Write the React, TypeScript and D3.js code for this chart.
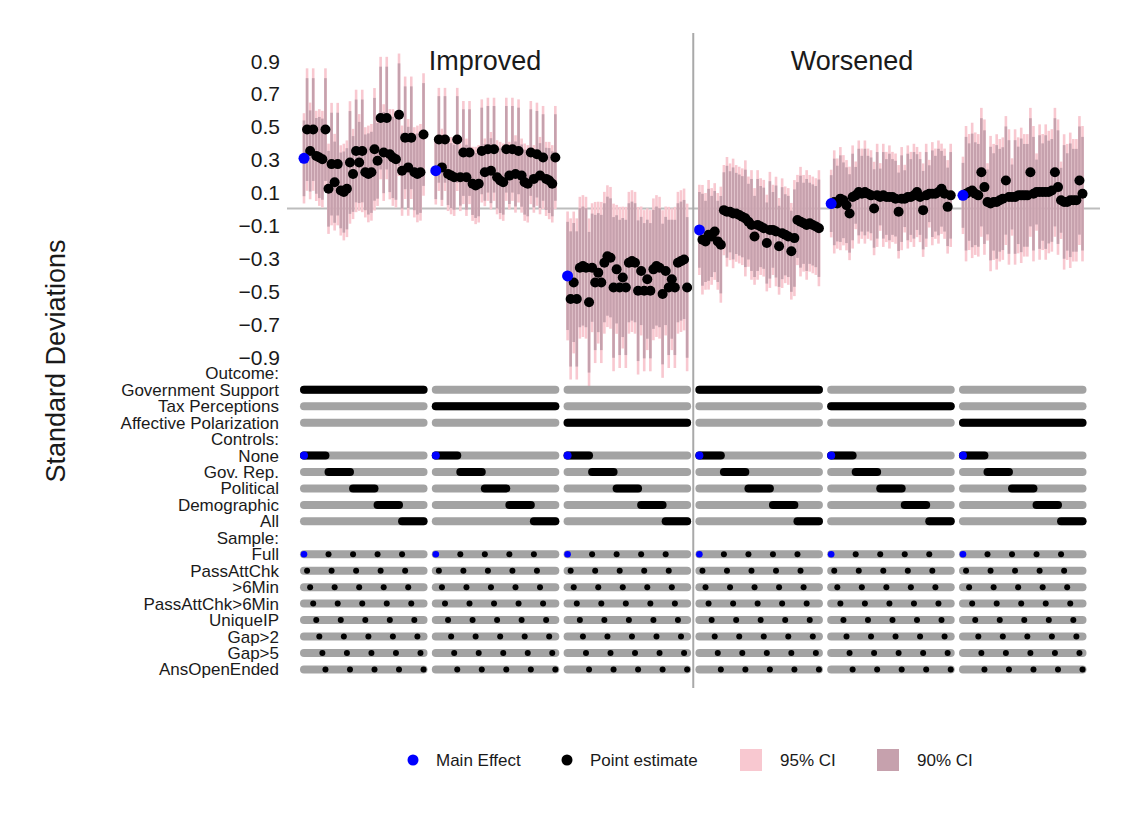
import React from 'react';
import * as d3 from 'd3';

// ---------- DATA ----------
const panelTitles = ['Improved', 'Worsened'];
const outcomeLabels = ['Government Support', 'Tax Perceptions', 'Affective Polarization'];
const controlLabels = ['None', 'Gov. Rep.', 'Political', 'Demographic', 'All'];
const sampleLabels = ['Full', 'PassAttChk', '>6Min', 'PassAttChk>6Min', 'UniqueIP', 'Gap>2', 'Gap>5', 'AnsOpenEnded'];
const yTicks = [0.9, 0.7, 0.5, 0.3, 0.1, -0.1, -0.3, -0.5, -0.7, -0.9];
const legendLabels = ['Main Effect', 'Point estimate', '95% CI', '90% CI'];

// groups: panel index and outcome index
const groupPanel = [0, 0, 0, 1, 1, 1];
const groupOutcome = [0, 1, 2, 0, 1, 2];

// point estimates, ordered control-major (5 controls x 8 samples)
const govImproved = [
  0.305, 0.48, 0.35, 0.48, 0.32, 0.31, 0.30, 0.48,
  0.12, 0.27, 0.16, 0.27, 0.11, 0.10, 0.12, 0.28,
  0.21, 0.35, 0.28, 0.35, 0.22, 0.21, 0.22, 0.36,
  0.29, 0.55, 0.34, 0.55, 0.33, 0.31, 0.30, 0.57,
  0.23, 0.43, 0.25, 0.43, 0.22, 0.21, 0.22, 0.45,
];
const taxImproved = [
  0.23, 0.42, 0.25, 0.42, 0.21, 0.20, 0.19, 0.42,
  0.19, 0.34, 0.19, 0.34, 0.15, 0.14, 0.15, 0.35,
  0.22, 0.36, 0.23, 0.36, 0.19, 0.17, 0.16, 0.36,
  0.20, 0.36, 0.21, 0.35, 0.20, 0.16, 0.15, 0.34,
  0.18, 0.33, 0.20, 0.31, 0.18, 0.17, 0.15, 0.31,
];
const apImproved = [
  -0.41, -0.55, -0.45, -0.55, -0.36, -0.35, -0.36, -0.57,
  -0.36, -0.45, -0.39, -0.45, -0.33, -0.29, -0.30, -0.48,
  -0.37, -0.48, -0.42, -0.48, -0.33, -0.32, -0.33, -0.50,
  -0.38, -0.50, -0.43, -0.50, -0.37, -0.35, -0.36, -0.52,
  -0.38, -0.48, -0.43, -0.48, -0.33, -0.32, -0.31, -0.48,
];
const govWorsened = [
  -0.13, -0.19, -0.20, -0.16, -0.17, -0.14, -0.20, -0.22,
  -0.01, -0.02, -0.02, -0.03, -0.03, -0.04, -0.05, -0.06,
  -0.08, -0.10, -0.17, -0.10, -0.11, -0.12, -0.21, -0.13,
  -0.13, -0.14, -0.23, -0.15, -0.16, -0.17, -0.26, -0.18,
  -0.07, -0.08, -0.09, -0.10, -0.09, -0.10, -0.11, -0.12,
];
const taxWorsened = [
  0.03, 0.04, 0.03, 0.06, 0.05, 0.02, -0.03, 0.07,
  0.08, 0.10, 0.09, 0.10, 0.09, 0.08, 0.00, 0.08,
  0.07, 0.08, 0.07, 0.07, 0.07, 0.06, -0.02, 0.06,
  0.06, 0.07, 0.07, 0.08, 0.10, 0.07, -0.01, 0.08,
  0.09, 0.09, 0.09, 0.10, 0.12, 0.09, 0.01, 0.08,
];
const apWorsened = [
  0.08, 0.09, 0.10, 0.11, 0.09, 0.08, 0.22, 0.13,
  0.04, 0.03, 0.04, 0.04, 0.05, 0.06, 0.17, 0.07,
  0.07, 0.07, 0.08, 0.08, 0.08, 0.08, 0.22, 0.09,
  0.10, 0.10, 0.10, 0.10, 0.10, 0.11, 0.22, 0.13,
  0.05, 0.04, 0.04, 0.05, 0.05, 0.05, 0.17, 0.09,
];
const groupEstimates = [govImproved, taxImproved, apImproved, govWorsened, taxWorsened, apWorsened];

// standard errors by sample, per group
const seGovImproved = [0.14, 0.19, 0.15, 0.19, 0.14, 0.15, 0.15, 0.19];
const seTaxImproved = [0.105, 0.16, 0.12, 0.16, 0.115, 0.12, 0.12, 0.16];
const seApImproved = [0.2, 0.25, 0.22, 0.25, 0.22, 0.22, 0.22, 0.26];
const seGovWorsened = [0.14, 0.17, 0.15, 0.17, 0.15, 0.15, 0.15, 0.18];
const seTaxWorsened = [0.105, 0.16, 0.14, 0.16, 0.14, 0.14, 0.145, 0.16];
const seApWorsened = [0.12, 0.21, 0.18, 0.21, 0.19, 0.19, 0.2, 0.21];
const groupSE = [seGovImproved, seTaxImproved, seApImproved, seGovWorsened, seTaxWorsened, seApWorsened];

const Z95 = 1.96;
const Z90 = 1.645;

// ---------- LAYOUT ----------
const W = 1124;
const H = 818;
const FONT = "'Liberation Sans', Arial, Helvetica, sans-serif";
const PER_GROUP = 43;
const N_SPEC = 40;
const TEXT = '#1a1a1a';
const GRAY_BAR = '#a3a3a3';
const PINK = '#f8c8d0';
const MAUVE = '#c6a1ad';

export default function App() {
  const nG = groupEstimates.length;
  const lastIdx = (nG - 1) * PER_GROUP + N_SPEC - 1;
  const x = d3.scaleLinear().domain([0, lastIdx]).range([304, 304 + lastIdx * 3.065]);
  const y = d3.scaleLinear().domain([-0.9, 0.9]).range([356.5, 60.5]);
  const row = d3.scaleLinear().domain([0, 18]).range([373.3, 669.4]);

  const specs: any[] = [];
  groupEstimates.forEach((arr, g) => {
    arr.forEach((v, j) => {
      const s = j % 8;
      const se = groupSE[g][s];
      specs.push({ g, j, v, idx: g * PER_GROUP + j, se, main: j === 0 });
    });
  });

  const labelRows: { k: number; text: string }[] = [];
  labelRows.push({ k: 0, text: 'Outcome:' });
  outcomeLabels.forEach((t, i) => labelRows.push({ k: 1 + i, text: t }));
  labelRows.push({ k: 4, text: 'Controls:' });
  controlLabels.forEach((t, i) => labelRows.push({ k: 5 + i, text: t }));
  labelRows.push({ k: 10, text: 'Sample:' });
  sampleLabels.forEach((t, i) => labelRows.push({ k: 11 + i, text: t }));

  const barRows = labelRows.filter((r) => !r.text.endsWith(':'));

  const sepX = (x(2 * PER_GROUP + N_SPEC - 1) + x(3 * PER_GROUP)) / 2;
  const barW = 2.6;

  return (
    <svg width={W} height={H} style={{ position: 'absolute', left: 0, top: 0, background: '#fff' }} fontFamily={FONT}>
      <rect x={0} y={0} width={W} height={H} fill="#fff" />

      {/* zero line */}
      <line x1={287} x2={1100} y1={y(0)} y2={y(0)} stroke="#bdbdbd" strokeWidth={2} />

      {/* CI bars */}
      {specs.map((d, i) => (
        <rect key={'c95' + i} x={x(d.idx) - barW / 2} width={barW}
          y={y(d.v + Z95 * d.se)} height={y(d.v - Z95 * d.se) - y(d.v + Z95 * d.se)} fill={PINK} />
      ))}
      {specs.map((d, i) => (
        <rect key={'c90' + i} x={x(d.idx) - barW / 2} width={barW}
          y={y(d.v + Z90 * d.se)} height={y(d.v - Z90 * d.se) - y(d.v + Z90 * d.se)} fill={MAUVE} />
      ))}

      {/* point estimates */}
      {specs.filter((d) => !d.main).map((d, i) => (
        <circle key={'p' + i} cx={x(d.idx)} cy={y(d.v)} r={5} fill="#000" />
      ))}
      {specs.filter((d) => d.main).map((d, i) => (
        <circle key={'m' + i} cx={x(d.idx)} cy={y(d.v)} r={5.5} fill="#0000ff" />
      ))}

      {/* separator */}
      <line x1={sepX} x2={sepX} y1={33} y2={688} stroke="#a9a9a9" strokeWidth={2} />

      {/* panel titles */}
      <text x={485} y={70} fontSize={27} textAnchor="middle" fill={TEXT}>{panelTitles[0]}</text>
      <text x={852} y={70} fontSize={27} textAnchor="middle" fill={TEXT}>{panelTitles[1]}</text>

      {/* y ticks */}
      {yTicks.map((t) => (
        <text key={'t' + t} x={280} y={y(t) + 8} fontSize={21} textAnchor="end" fill={TEXT}>
          {d3.format('.1f')(t)}
        </text>
      ))}

      {/* y title */}
      <text transform={`translate(65,361) rotate(-90)`} fontSize={27} textAnchor="middle" fill={TEXT}>
        Standard Deviations
      </text>

      {/* row labels */}
      {labelRows.map((r) => (
        <text key={'l' + r.k} x={279} y={row(r.k) + 6} fontSize={17} textAnchor="end" fill={TEXT}>
          {r.text}
        </text>
      ))}

      {/* row bars */}
      {groupEstimates.map((_, g) => {
        const x0 = x(g * PER_GROUP);
        const x1 = x(g * PER_GROUP + N_SPEC - 1);
        return (
          <g key={'g' + g}>
            {barRows.map((r) => (
              <line key={'b' + r.k} x1={x0} x2={x1} y1={row(r.k)} y2={row(r.k)}
                stroke={GRAY_BAR} strokeWidth={8} strokeLinecap="round" />
            ))}
            {/* outcome */}
            <line x1={x0} x2={x1} y1={row(1 + groupOutcome[g])} y2={row(1 + groupOutcome[g])}
              stroke="#000" strokeWidth={8} strokeLinecap="round" />
            {/* controls */}
            {controlLabels.map((_, c) => (
              <line key={'c' + c} x1={x(g * PER_GROUP + c * 8)} x2={x(g * PER_GROUP + c * 8 + 7)}
                y1={row(5 + c)} y2={row(5 + c)} stroke="#000" strokeWidth={8} strokeLinecap="round" />
            ))}
            {/* samples */}
            {sampleLabels.map((_, s) =>
              controlLabels.map((__, c) => {
                const isMain = s === 0 && c === 0;
                return (
                  <circle key={'s' + s + '_' + c} cx={x(g * PER_GROUP + c * 8 + s)} cy={row(11 + s)}
                    r={isMain ? 3.3 : 3} fill={isMain ? '#0000ff' : '#000'} />
                );
              })
            )}
            {/* main effect on None row */}
            <circle cx={x(g * PER_GROUP)} cy={row(5)} r={4} fill="#0000ff" />
          </g>
        );
      })}

      {/* legend */}
      <circle cx={413} cy={760} r={5.5} fill="#0000ff" />
      <text x={436} y={766} fontSize={17} fill={TEXT}>{legendLabels[0]}</text>
      <circle cx={567} cy={760} r={5.5} fill="#000" />
      <text x={590} y={766} fontSize={17} fill={TEXT}>{legendLabels[1]}</text>
      <rect x={740} y={749} width={22} height={22} fill={PINK} />
      <text x={780} y={766} fontSize={17} fill={TEXT}>{legendLabels[2]}</text>
      <rect x={877} y={749} width={22} height={22} fill={MAUVE} />
      <text x={917} y={766} fontSize={17} fill={TEXT}>{legendLabels[3]}</text>
    </svg>
  );
}
